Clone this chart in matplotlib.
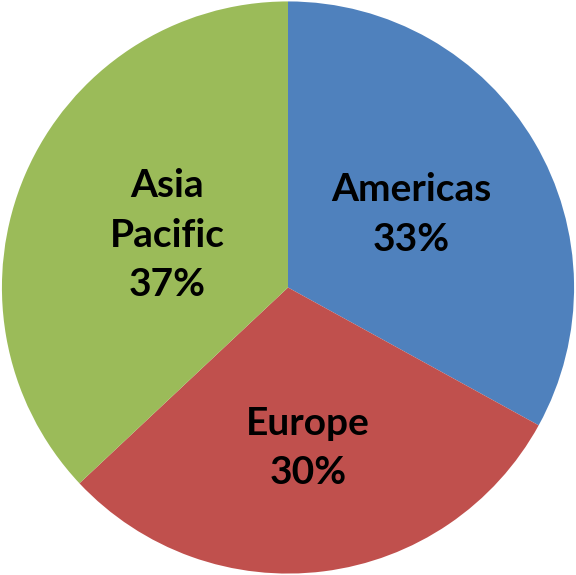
import numpy as np
import matplotlib.pyplot as plt

regions = ['Americas', 'Europe', 'Asia\nPacific']
shares = [33, 30, 37]
colors = ['#4F81BD', '#C0504D', '#9BBB59']
label_dist = [0.50, 0.565, 0.46]

fig = plt.figure(figsize=(5.76, 5.75), dpi=100)
ax = fig.add_axes([0, 0, 1, 1])
wedges, _ = ax.pie(shares, colors=colors, startangle=90, counterclock=False,
                   radius=1.0, wedgeprops=dict(linewidth=0))

# bold two-line labels placed along each wedge's mid angle
for w, name, pct, d in zip(wedges, regions, shares, label_dist):
    ang = np.deg2rad((w.theta1 + w.theta2) / 2)
    ax.text(d * np.cos(ang), d * np.sin(ang), '%s\n%d%%' % (name, pct),
            ha='center', va='center', fontsize=28, fontweight='bold',
            family='Lato', linespacing=1.5, color='black')

ax.set_xlim(-1.005, 1.005)
ax.set_ylim(-1.005, 1.005)
ax.set_aspect('equal')
ax.axis('off')
fig.savefig('out.png', dpi=100)
